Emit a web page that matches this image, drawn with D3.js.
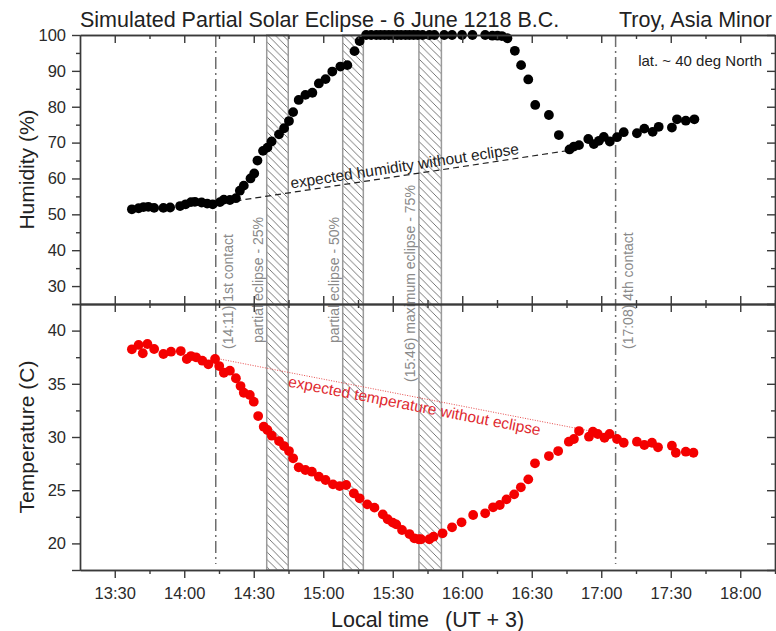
<!DOCTYPE html>
<html>
<head>
<meta charset="utf-8">
<script src="https://cdn.jsdelivr.net/npm/d3@7/dist/d3.min.js"></script>
<style>
  body { margin: 0; background: #fff; }
  svg { font-family: "Liberation Sans", Arial, sans-serif; }
  .axis path, .axis line { stroke: #3a3a3a; stroke-width: 1.4px; }
  .axis text { font-size: 16.5px; fill: #2a2a2a; }
</style>
</head>
<body>
<div id="chart"></div>
<script>
// times are minutes after midnight (local time, UT + 3)
const humTime = [817.4, 820.3, 822.4, 824.5, 827.0, 831.0, 833.9, 838.2, 840.6, 842.9,
  844.6, 847.5, 849.9, 852.3, 855.4, 857.1, 859.7, 862.3, 864.0, 865.7,
  868.6, 870.2, 871.6, 874.0, 875.9, 877.7, 880.9, 883.1, 885.2, 887.0,
  889.4, 892.3, 895.3, 898.1, 901.0, 903.9, 907.4, 910.4, 913.5, 915.7,
  918.5, 920.7, 922.9, 924.7, 926.5, 928.3, 930.0, 931.9, 933.6, 935.5,
  937.2, 939.0, 940.8, 942.9, 945.8, 948.0, 952.2, 955.6, 959.9, 964.4,
  969.9, 973.0, 975.2, 977.1, 979.5, 982.7, 985.4, 988.5, 991.5, 997.4,
  1001.7, 1006.3, 1008.2, 1010.4, 1014.4, 1016.8, 1019.0, 1021.1, 1023.7, 1026.8,
  1029.7, 1035.4, 1038.6, 1042.2, 1044.8, 1050.5, 1052.7, 1056.5, 1060.2];
const humidity = [51.4, 51.7, 52.0, 52.1, 51.8, 51.8, 51.9, 52.3, 52.8, 53.4,
  53.5, 53.3, 53.0, 52.8, 53.4, 54.1, 54.0, 54.5, 56.6, 58.0,
  60.0, 61.4, 65.0, 67.7, 68.6, 70.3, 72.3, 74.0, 76.0, 78.5,
  81.9, 83.3, 83.9, 86.5, 87.7, 89.8, 91.2, 91.6, 95.5, 98.3,
  100, 100, 100, 100, 100, 100, 100, 100, 100, 100,
  100, 100, 100, 100, 100, 100, 100, 100, 100, 100,
  100, 99.8, 99.8, 99.7, 99.1, 95.6, 91.6, 87.6, 80.5, 77.7,
  72.1, 68.1, 68.9, 69.3, 71.0, 69.6, 70.5, 71.6, 70.3, 71.5,
  72.9, 72.6, 73.9, 73.0, 74.4, 74.2, 76.5, 76.1, 76.5];

const tempTime = [817.4, 820.3, 822.1, 824.1, 827.0, 831.0, 834.3, 838.5, 841.1, 842.9,
  845.1, 847.8, 850.4, 853.3, 855.1, 857.1, 859.7, 862.3, 864.3, 865.7,
  868.3, 870.0, 871.9, 874.3, 875.9, 877.8, 880.9, 883.1, 885.2, 887.0,
  889.4, 892.3, 895.1, 898.1, 901.0, 904.2, 907.1, 909.9, 913.2, 915.7,
  919.0, 922.1, 925.7, 927.8, 930.0, 931.5, 934.0, 937.2, 939.3, 941.2,
  942.2, 945.8, 947.6, 951.5, 955.6, 959.7, 964.7, 969.9, 973.3, 976.2,
  979.1, 982.4, 985.3, 988.5, 991.4, 997.4, 1001.4, 1006.0, 1008.2, 1010.4,
  1014.7, 1016.4, 1018.5, 1021.4, 1023.6, 1026.8, 1029.7, 1035.4, 1038.6, 1041.9,
  1044.5, 1050.5, 1052.2, 1056.5, 1059.8];
const temperature = [38.24, 38.65, 37.87, 38.74, 38.27, 37.80, 38.02, 38.08, 37.33, 37.61,
  37.49, 37.17, 36.83, 37.33, 36.67, 36.04, 36.23, 35.52, 34.79, 34.16,
  33.95, 33.32, 31.97, 30.97, 30.66, 30.12, 29.62, 29.15, 28.68, 28.00,
  27.15, 26.90, 26.74, 26.27, 25.96, 25.55, 25.39, 25.49, 24.71, 24.24,
  23.67, 23.36, 22.73, 22.27, 21.95, 21.79, 21.26, 20.88, 20.48, 20.39,
  20.39, 20.39, 20.63, 20.95, 21.51, 21.98, 22.67, 22.83, 23.39, 23.61,
  24.14, 24.61, 25.27, 26.02, 27.53, 28.21, 28.68, 29.56, 29.81, 30.56,
  30.03, 30.50, 30.28, 29.93, 30.28, 29.81, 29.46, 29.56, 29.25, 29.46,
  29.03, 29.18, 28.52, 28.62, 28.52];

// contacts (dash-dot lines) and eclipse phases (hatched bands)
const contactTime = [853.6, 1026.2];
const contactLabel = ["(14:11) 1st contact", "(17:08) 4th contact"];
const phaseStart = [875.6, 908.4, 941.3];
const phaseEnd = [884.9, 917.3, 951.0];
const phaseLabel = ["partial eclipse - 25%", "partial eclipse - 50%", "(15:46) maximum eclipse - 75%"];

// "expected without eclipse" trend lines: [time, value]
const humExpected = [[853.6, 52.9], [1004.8, 67.7]];
const tempExpected = [[853.6, 37.4], [1026.2, 30.1]];

const xMajor = [810, 840, 870, 900, 930, 960, 990, 1020, 1050, 1080];
const xMinor = [825, 855, 885, 915, 945, 975, 1005, 1035, 1065, 1095];
const humMajor = [25, 30, 40, 50, 60, 70, 80, 90, 100];
const humMinor = [35, 45, 55, 65, 75, 85, 95];
const tempMajor = [17.5, 20, 25, 30, 35, 40, 42.5];
const tempMinor = [22.5, 27.5, 32.5, 37.5];

const width = 776, height = 631;
const pLeft = 80, pRight = 775, pTop = 35, pMid = 304, pBottom = 570;

const svg = d3.select("#chart").append("svg")
  .attr("width", width).attr("height", height);

const x = d3.scaleLinear().domain([795, 1095]).range([pLeft, pRight]);
const yHum = d3.scaleLinear().domain([25, 100]).range([pMid, pTop]);
const yTemp = d3.scaleLinear().domain([17.5, 42.5]).range([pBottom, pMid]);

const clock = m => `${Math.floor(m / 60)}:${String(Math.round(m % 60)).padStart(2, "0")}`;

// hatch pattern
const defs = svg.append("defs");
const pat = defs.append("pattern").attr("id", "hatch")
  .attr("patternUnits", "userSpaceOnUse").attr("width", 7.5).attr("height", 7.5);
pat.append("rect").attr("width", 7.5).attr("height", 7.5).attr("fill", "#fff");
pat.append("path").attr("d", "M-1,-1L8.5,8.5M-1,6.5L1,8.5M6.5,-1L8.5,1")
  .attr("stroke", "#666").attr("stroke-width", 0.9);

// phase bands
svg.selectAll("rect.phase").data(phaseStart).enter().append("rect")
  .attr("class", "phase")
  .attr("x", d => x(d))
  .attr("width", (d, i) => x(phaseEnd[i]) - x(d))
  .attr("y", pTop).attr("height", pBottom - pTop)
  .attr("fill", "url(#hatch)")
  .attr("stroke", "#9a9a9a").attr("stroke-width", 1.5);

svg.selectAll("text.phase").data(phaseStart).enter().append("text")
  .attr("class", "phase")
  .attr("transform", (d, i) => `translate(${x(d) - 4},${i === 2 ? 382 : 343}) rotate(-90)`)
  .style("font-size", "14px").style("fill", "#8a8a8a")
  .text((d, i) => phaseLabel[i]);

// contact lines
svg.selectAll("line.contact").data(contactTime).enter().append("line")
  .attr("class", "contact")
  .attr("x1", d => x(d)).attr("x2", d => x(d))
  .attr("y1", pTop).attr("y2", pBottom - 6)
  .attr("stroke", "#6e6e6e").attr("stroke-width", 1.5)
  .attr("stroke-dasharray", "12,4,2,4");

svg.selectAll("text.contact").data(contactTime).enter().append("text")
  .attr("class", "contact")
  .attr("transform", d => `translate(${x(d) + 17},349) rotate(-90)`)
  .style("font-size", "14px").style("fill", "#8a8a8a")
  .text((d, i) => contactLabel[i]);

// expected trends
const humLine = d3.line().x(d => x(d[0])).y(d => yHum(d[1]));
const tempLine = d3.line().x(d => x(d[0])).y(d => yTemp(d[1]));

svg.append("path").attr("d", humLine(humExpected))
  .attr("fill", "none").attr("stroke", "#222").attr("stroke-width", 1.2)
  .attr("stroke-dasharray", "6,4");
svg.append("path").attr("d", tempLine(tempExpected))
  .attr("fill", "none").attr("stroke", "#e02020").attr("stroke-width", 0.8)
  .attr("stroke-dasharray", "1,1.5");

function trendLabel(pts, yScale, t0, offset, text, color) {
  const [a, b] = pts;
  const x0 = x(a[0]), y0 = yScale(a[1]), x1 = x(b[0]), y1 = yScale(b[1]);
  const ang = Math.atan2(y1 - y0, x1 - x0) * 180 / Math.PI;
  const f = (t0 - a[0]) / (b[0] - a[0]);
  const px = x0 + f * (x1 - x0), py = y0 + f * (y1 - y0);
  svg.append("text")
    .attr("transform", `translate(${px},${py}) rotate(${ang})`)
    .attr("dy", offset)
    .style("font-size", "15.5px").style("fill", color)
    .text(text);
}
trendLabel(humExpected, yHum, 886.4, -4, "expected humidity without eclipse", "#222");
trendLabel(tempExpected, yTemp, 885.7, 14, "expected temperature without eclipse", "#e02a30");

// data points
svg.append("g").selectAll("circle").data(humTime).enter().append("circle")
  .attr("cx", d => x(d)).attr("cy", (d, i) => yHum(humidity[i]))
  .attr("r", 4.9).attr("fill", "#000");
svg.append("g").selectAll("circle").data(tempTime).enter().append("circle")
  .attr("cx", d => x(d)).attr("cy", (d, i) => yTemp(temperature[i]))
  .attr("r", 4.9).attr("fill", "#f40000");

// axes
function axis(gen, tx, ty) {
  return svg.append("g").attr("class", "axis")
    .attr("transform", `translate(${tx},${ty})`).call(gen);
}
const noLab = () => "";
// bottom
axis(d3.axisBottom(x).tickValues(xMajor).tickSize(8).tickPadding(9).tickFormat(clock).tickSizeOuter(0), 0, pBottom);
axis(d3.axisBottom(x).tickValues(xMinor).tickSize(4).tickFormat(noLab).tickSizeOuter(0), 0, pBottom);
// top border
axis(d3.axisTop(x).tickValues(xMajor).tickSize(-8).tickFormat(noLab).tickSizeOuter(0), 0, pTop);
axis(d3.axisTop(x).tickValues(xMinor).tickSize(-4).tickFormat(noLab).tickSizeOuter(0), 0, pTop);
// divider, ticks on both sides
axis(d3.axisTop(x).tickValues(xMajor).tickSize(8).tickFormat(noLab).tickSizeOuter(0), 0, pMid);
axis(d3.axisBottom(x).tickValues(xMajor).tickSize(8).tickFormat(noLab).tickSizeOuter(0), 0, pMid);
axis(d3.axisTop(x).tickValues(xMinor).tickSize(4).tickFormat(noLab).tickSizeOuter(0), 0, pMid);
axis(d3.axisBottom(x).tickValues(xMinor).tickSize(4).tickFormat(noLab).tickSizeOuter(0), 0, pMid);
// left
axis(d3.axisLeft(yHum).tickValues(humMajor).tickSize(8).tickPadding(6)
  .tickFormat(d => d === 25 ? "" : d).tickSizeOuter(0), pLeft, 0);
axis(d3.axisLeft(yHum).tickValues(humMinor).tickSize(4).tickFormat(noLab).tickSizeOuter(0), pLeft, 0);
axis(d3.axisLeft(yTemp).tickValues(tempMajor).tickSize(8).tickPadding(6)
  .tickFormat(d => d % 5 ? "" : d).tickSizeOuter(0), pLeft, 0);
axis(d3.axisLeft(yTemp).tickValues(tempMinor).tickSize(4).tickFormat(noLab).tickSizeOuter(0), pLeft, 0);
// right
axis(d3.axisRight(yHum).tickValues(humMajor).tickSize(-8).tickFormat(noLab).tickSizeOuter(0), pRight, 0);
axis(d3.axisRight(yHum).tickValues(humMinor).tickSize(-4).tickFormat(noLab).tickSizeOuter(0), pRight, 0);
axis(d3.axisRight(yTemp).tickValues(tempMajor).tickSize(-8).tickFormat(noLab).tickSizeOuter(0), pRight, 0);
axis(d3.axisRight(yTemp).tickValues(tempMinor).tickSize(-4).tickFormat(noLab).tickSizeOuter(0), pRight, 0);

// titles and labels
svg.append("text").attr("x", pLeft).attr("y", 27)
  .style("font-size", "21.5px").style("fill", "#222")
  .text("Simulated Partial Solar Eclipse - 6 June 1218 B.C.");
svg.append("text").attr("x", 619).attr("y", 27)
  .style("font-size", "21.5px").style("fill", "#222")
  .text("Troy, Asia Minor");
svg.append("text").attr("x", 762).attr("y", 66).attr("text-anchor", "end")
  .style("font-size", "15px").style("fill", "#222")
  .text("lat. ~ 40 deg North");

svg.append("text")
  .attr("transform", `translate(34,${(pTop + pMid) / 2}) rotate(-90)`)
  .attr("text-anchor", "middle")
  .style("font-size", "21px").style("fill", "#222")
  .text("Humidity (%)");
svg.append("text")
  .attr("transform", `translate(34,${(pMid + pBottom) / 2}) rotate(-90)`)
  .attr("text-anchor", "middle")
  .style("font-size", "21px").style("fill", "#222")
  .text("Temperature (C)");

const xl = svg.append("text").attr("x", 331).attr("y", 627)
  .style("font-size", "21.5px").style("fill", "#222");
xl.append("tspan").text("Local time");
xl.append("tspan").attr("dx", 16).text("(UT + 3)");
</script>
</body>
</html>
